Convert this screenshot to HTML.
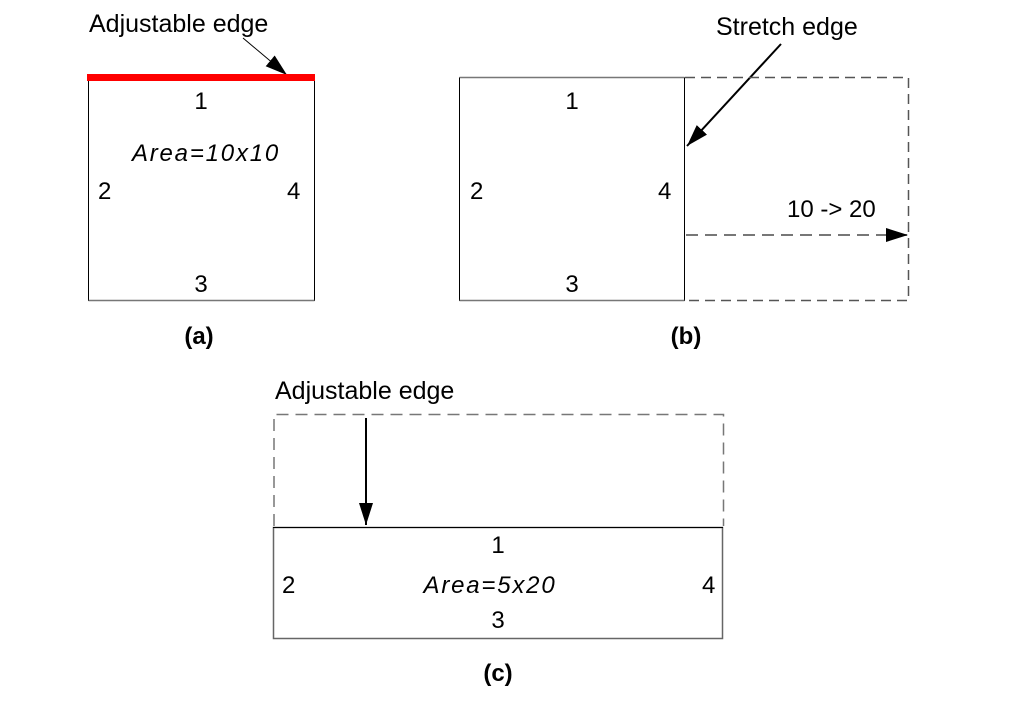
<!DOCTYPE html>
<html><head><meta charset="utf-8"><style>html,body{margin:0;padding:0;background:#fff}svg{display:block}</style></head>
<body>
<svg width="1013" height="704" viewBox="0 0 1013 704" xmlns="http://www.w3.org/2000/svg" font-family="Liberation Sans, sans-serif" font-size="24" fill="#000">
<defs>
<marker id="ahL" markerWidth="22" markerHeight="14" refX="22" refY="7" orient="auto" markerUnits="userSpaceOnUse"><path d="M0,0 L22,7 L0,14 z" fill="#000"/></marker>
</defs>
<!-- (a) -->
<text x="89" y="32" font-size="25">Adjustable edge</text>
<line x1="243" y1="38" x2="287" y2="75" stroke="#000" stroke-width="1" marker-end="url(#ahL)"/>
<rect x="88.5" y="77.5" width="226" height="223" fill="none" stroke="#000" stroke-width="1"/>
<line x1="88.5" y1="300.5" x2="314.5" y2="300.5" stroke="#777" stroke-width="1.5"/>
<rect x="87" y="74" width="228" height="7" fill="#f00"/>
<text x="201" y="109" text-anchor="middle">1</text>
<text x="206" y="161" text-anchor="middle" font-style="italic" letter-spacing="1.8">Area=10x10</text>
<text x="98" y="199">2</text>
<text x="287" y="199">4</text>
<text x="201" y="292" text-anchor="middle">3</text>
<text x="199" y="344" text-anchor="middle" font-weight="bold">(a)</text>
<!-- (b) -->
<text x="716" y="35" font-size="25">Stretch edge</text>
<line x1="781" y1="44" x2="687" y2="146" stroke="#000" stroke-width="2" marker-end="url(#ahL)"/>
<line x1="459.5" y1="77.5" x2="684.5" y2="77.5" stroke="#777" stroke-width="1.5"/>
<line x1="459.5" y1="77.5" x2="459.5" y2="301" stroke="#000" stroke-width="1"/>
<line x1="684.5" y1="77.5" x2="684.5" y2="301" stroke="#000" stroke-width="1"/>
<line x1="459.5" y1="300.5" x2="684.5" y2="300.5" stroke="#777" stroke-width="1.5"/>
<path d="M685,77.5 H908.5 V300.5 H685" fill="none" stroke="#555" stroke-width="1.5" stroke-dasharray="10,6"/>
<line x1="686" y1="235" x2="908" y2="235" stroke="#777" stroke-width="2" stroke-dasharray="12,7" marker-end="url(#ahL)"/>
<text x="787" y="217" font-size="24">10 -&gt; 20</text>
<text x="572" y="109" text-anchor="middle">1</text>
<text x="470" y="199">2</text>
<text x="658" y="199">4</text>
<text x="572" y="292" text-anchor="middle">3</text>
<text x="686" y="344" text-anchor="middle" font-weight="bold">(b)</text>
<!-- (c) -->
<text x="275" y="399" font-size="25">Adjustable edge</text>
<path d="M274,526 V414.5 H723.5 V526" fill="none" stroke="#777" stroke-width="1.5" stroke-dasharray="12,7"/>
<line x1="366" y1="418" x2="366" y2="525" stroke="#000" stroke-width="2" marker-end="url(#ahL)"/>
<rect x="273.5" y="527.5" width="449" height="111" fill="none" stroke="#666" stroke-width="1.5"/>
<line x1="273" y1="527.5" x2="723" y2="527.5" stroke="#000" stroke-width="1"/>
<text x="498" y="553" text-anchor="middle">1</text>
<text x="490" y="593" text-anchor="middle" font-style="italic" letter-spacing="1.8">Area=5x20</text>
<text x="282" y="593">2</text>
<text x="702" y="593">4</text>
<text x="498" y="628" text-anchor="middle">3</text>
<text x="498" y="681" text-anchor="middle" font-weight="bold">(c)</text>
</svg>
</body></html>
